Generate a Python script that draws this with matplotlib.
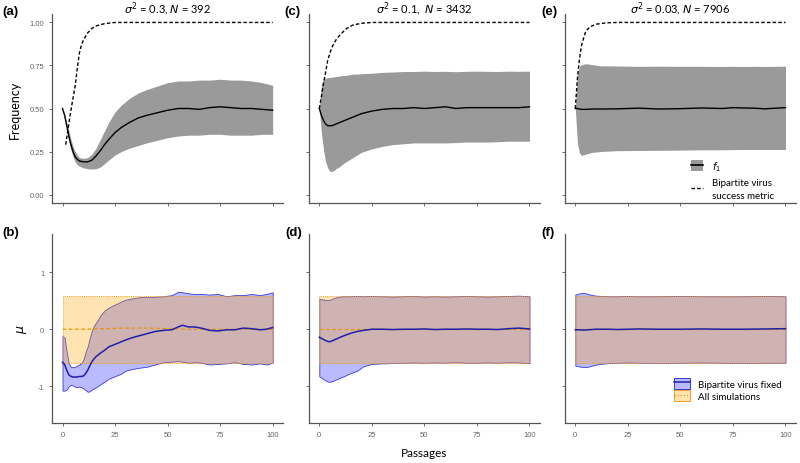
import matplotlib
matplotlib.use("Agg")
import matplotlib.pyplot as plt
from matplotlib.patches import Patch
from matplotlib.lines import Line2D

# ---------------- data ----------------
# Panel (a): sigma^2 = 0.3, N = 392
xa = [0, 1, 2, 3, 4, 5, 6, 7, 8, 10, 12, 14, 16, 18, 20, 22, 25, 28, 32, 36, 40,
      45, 50, 55, 60, 65, 70, 75, 80, 85, 90, 95, 100]
fa_mean = [0.50, 0.46, 0.40, 0.34, 0.29, 0.25, 0.22, 0.205, 0.195, 0.19, 0.19, 0.20,
           0.225, 0.255, 0.29, 0.32, 0.36, 0.39, 0.42, 0.445, 0.46, 0.475, 0.49, 0.50,
           0.50, 0.495, 0.505, 0.51, 0.505, 0.50, 0.50, 0.495, 0.49]
fa_upper = [0.50, 0.47, 0.42, 0.37, 0.32, 0.28, 0.25, 0.23, 0.215, 0.21, 0.215, 0.235,
            0.27, 0.32, 0.37, 0.42, 0.48, 0.52, 0.56, 0.59, 0.61, 0.63, 0.65, 0.66,
            0.66, 0.665, 0.665, 0.67, 0.665, 0.665, 0.66, 0.65, 0.635]
fa_lower = [0.50, 0.45, 0.38, 0.31, 0.26, 0.22, 0.19, 0.175, 0.165, 0.155, 0.15, 0.148,
            0.15, 0.16, 0.18, 0.20, 0.23, 0.25, 0.27, 0.285, 0.30, 0.315, 0.33, 0.34,
            0.345, 0.345, 0.35, 0.35, 0.345, 0.345, 0.345, 0.35, 0.35]
xa_s = [1.5, 2, 3, 4, 5, 6, 7, 8, 9, 10, 12, 14, 16, 20, 25, 30, 40, 50, 60, 70, 80, 90, 100]
sa = [0.29, 0.33, 0.41, 0.49, 0.56, 0.63, 0.73, 0.82, 0.87, 0.90, 0.94, 0.965, 0.98,
      0.993, 1.0, 1.0, 1.0, 1.0, 1.0, 1.0, 1.0, 1.0, 1.0]

# Panel (c): sigma^2 = 0.1, N = 3432
xc = [0, 1, 2, 3, 4, 5, 6, 7, 8, 10, 12, 14, 16, 18, 20, 25, 30, 35, 40, 45, 50, 55,
      60, 65, 70, 75, 80, 85, 90, 95, 100]
fc_mean = [0.50, 0.46, 0.43, 0.41, 0.40, 0.40, 0.40, 0.405, 0.41, 0.42, 0.43, 0.44,
           0.45, 0.46, 0.47, 0.485, 0.495, 0.50, 0.50, 0.505, 0.50, 0.505, 0.51, 0.50,
           0.505, 0.505, 0.505, 0.505, 0.505, 0.505, 0.51]
fc_upper = [0.50, 0.64, 0.67, 0.675, 0.68, 0.68, 0.682, 0.684, 0.685, 0.69, 0.692, 0.695,
            0.70, 0.70, 0.702, 0.705, 0.71, 0.712, 0.715, 0.715, 0.717, 0.715, 0.716,
            0.714, 0.716, 0.717, 0.716, 0.715, 0.717, 0.716, 0.717]
fc_lower = [0.50, 0.36, 0.26, 0.19, 0.155, 0.135, 0.135, 0.14, 0.15, 0.165, 0.185,
            0.20, 0.215, 0.23, 0.245, 0.265, 0.28, 0.29, 0.295, 0.30, 0.30, 0.30, 0.30,
            0.302, 0.305, 0.305, 0.305, 0.307, 0.31, 0.31, 0.31]
xc_s = [0, 1, 2, 3, 4, 5, 6, 8, 10, 13, 16, 20, 25, 30, 40, 50, 60, 70, 80, 90, 100]
sc = [0.50, 0.57, 0.645, 0.71, 0.78, 0.82, 0.855, 0.90, 0.93, 0.965, 0.985, 0.995,
      1.0, 1.0, 1.0, 1.0, 1.0, 1.0, 1.0, 1.0, 1.0]

# Panel (e): sigma^2 = 0.03, N = 7906
xe = [0, 1, 2, 3, 5, 8, 12, 20, 30, 40, 50, 60, 70, 75, 80, 85, 90, 100]
fe_mean = [0.50, 0.50, 0.497, 0.495, 0.495, 0.497, 0.497, 0.498, 0.502, 0.497, 0.499,
           0.503, 0.50, 0.505, 0.503, 0.502, 0.498, 0.505]
fe_upper = [0.50, 0.70, 0.745, 0.755, 0.76, 0.755, 0.748, 0.747, 0.745, 0.746, 0.745,
            0.745, 0.744, 0.745, 0.744, 0.745, 0.744, 0.746]
fe_lower = [0.50, 0.30, 0.24, 0.228, 0.235, 0.245, 0.25, 0.255, 0.256, 0.257, 0.258,
            0.26, 0.26, 0.261, 0.262, 0.262, 0.262, 0.262]
xe_s = [0, 1, 2, 3, 5, 7, 10, 15, 20, 30, 40, 50, 60, 70, 80, 90, 100]
se = [0.50, 0.675, 0.79, 0.87, 0.95, 0.975, 0.99, 0.998, 1.0, 1.0, 1.0, 1.0, 1.0, 1.0,
      1.0, 1.0, 1.0]

# All simulations (orange) for panels (b), (d), (f)
xo = [0, 10, 20, 30, 40, 50, 60, 70, 80, 90, 100]
all_upper = [0.58, 0.58, 0.58, 0.58, 0.58, 0.58, 0.58, 0.58, 0.58, 0.58, 0.58]
all_lower = [-0.59, -0.59, -0.59, -0.59, -0.59, -0.59, -0.59, -0.59, -0.59, -0.59, -0.59]
all_mean_b = [0.0, 0.0, 0.01, 0.02, 0.02, 0.01, 0.0, 0.0, 0.0, 0.0, 0.0]
all_mean_d = [0.0, 0.0, 0.0, 0.0, 0.0, 0.0, 0.0, 0.0, 0.0, 0.0, 0.0]
all_mean_f = [0.0, 0.0, 0.0, 0.0, 0.0, 0.0, 0.0, 0.0, 0.0, 0.0, 0.0]

# Bipartite virus fixed (blue), panel (b)
xb = [0, 1, 2, 3, 4, 5, 6, 7, 8, 9, 10, 11, 12, 13, 14, 15, 16, 18, 20, 22, 24, 26,
      28, 30, 33, 36, 40, 44, 48, 52, 55, 57, 60, 63, 66, 70, 74, 78, 82, 86, 90, 94,
      97, 100]
mb_upper = [-0.12, -0.15, -0.40, -0.60, -0.66, -0.67, -0.66, -0.64, -0.62, -0.60,
            -0.53, -0.40, -0.30, -0.15, -0.02, 0.06, 0.12, 0.24, 0.33, 0.38, 0.42, 0.45,
            0.49, 0.52, 0.54, 0.56, 0.57, 0.57, 0.58, 0.60, 0.66, 0.65, 0.63, 0.62, 0.62,
            0.61, 0.62, 0.58, 0.60, 0.60, 0.62, 0.60, 0.62, 0.65]
mb_mean = [-0.58, -0.62, -0.72, -0.80, -0.83, -0.84, -0.84, -0.84, -0.83, -0.83, -0.82,
           -0.78, -0.72, -0.64, -0.57, -0.52, -0.48, -0.42, -0.37, -0.31, -0.28, -0.25,
           -0.22, -0.19, -0.15, -0.12, -0.08, -0.04, -0.02, -0.01, 0.04, 0.07, 0.04,
           0.04, 0.02, -0.02, -0.03, -0.01, -0.01, 0.02, 0.01, -0.01, 0.0, 0.03]
mb_lower = [-1.08, -1.08, -1.06, -1.00, -0.98, -0.99, -1.01, -1.02, -1.01, -1.02, -1.04,
            -1.07, -1.10, -1.09, -1.06, -1.04, -1.02, -0.97, -0.92, -0.87, -0.84, -0.81,
            -0.78, -0.73, -0.70, -0.68, -0.66, -0.62, -0.58, -0.57, -0.56, -0.57, -0.59,
            -0.58, -0.59, -0.62, -0.61, -0.60, -0.58, -0.61, -0.62, -0.60, -0.62, -0.59]

# panel (d)
xd = [0, 2, 4, 5, 7, 10, 12, 15, 18, 21, 25, 30, 35, 40, 45, 50, 55, 60, 65, 70, 75,
      80, 85, 90, 95, 100]
md_upper = [0.535, 0.52, 0.51, 0.515, 0.55, 0.575, 0.58, 0.58, 0.585, 0.58, 0.585,
            0.58, 0.575, 0.58, 0.585, 0.575, 0.58, 0.575, 0.58, 0.585, 0.58, 0.575,
            0.58, 0.585, 0.59, 0.58]
md_mean = [-0.14, -0.18, -0.215, -0.22, -0.19, -0.14, -0.11, -0.07, -0.04, -0.02, 0.0,
           0.0, -0.005, 0.0, 0.0, 0.005, -0.005, 0.0, 0.0, 0.005, 0.0, 0.0, -0.005,
           0.01, 0.02, 0.005]
md_lower = [-0.83, -0.88, -0.92, -0.925, -0.90, -0.85, -0.82, -0.77, -0.73, -0.65,
            -0.61, -0.60, -0.595, -0.59, -0.585, -0.59, -0.585, -0.59, -0.58, -0.59,
            -0.59, -0.585, -0.59, -0.58, -0.585, -0.595]

# panel (f)
xf = [0, 2, 4, 6, 8, 10, 13, 16, 20, 25, 30, 40, 50, 60, 70, 80, 90, 100]
mf_upper = [0.61, 0.63, 0.64, 0.62, 0.60, 0.59, 0.585, 0.58, 0.58, 0.585, 0.58, 0.58,
            0.585, 0.58, 0.58, 0.58, 0.585, 0.58]
mf_mean = [-0.01, -0.01, -0.015, -0.01, -0.005, 0.0, 0.0, 0.0, -0.005, 0.0, 0.005, 0.0,
           0.0, 0.005, 0.0, 0.0, 0.005, 0.01]
mf_lower = [-0.64, -0.655, -0.665, -0.66, -0.64, -0.62, -0.605, -0.595, -0.59, -0.585,
            -0.59, -0.595, -0.59, -0.585, -0.59, -0.595, -0.59, -0.59]

titles = [r"$\sigma^2$ = 0.3, $N$ = 392", r"$\sigma^2$ = 0.1,  $N$ = 3432",
          r"$\sigma^2$ = 0.03, $N$ = 7906"]
top_labels = ["(a)", "(c)", "(e)"]
bot_labels = ["(b)", "(d)", "(f)"]
xticks = [0, 25, 50, 75, 100]
top_yticks = [0.00, 0.25, 0.50, 0.75, 1.00]
bot_yticks = [-1, 0, 1]

# ---------------- style ----------------
TXT = "Lato"
GRAY_FILL = "#9a9a9a"
BLUE_FACE = (0.0, 0.0, 1.0, 0.27)
BLUE_EDGE = (0.15, 0.15, 0.85, 0.9)
BLUE_LINE = "#1f1fa8"
OR_FACE = (1.0, 0.65, 0.0, 0.30)
OR_EDGE = "#f0a020"
OR_LINE = "#e8950c"

fig = plt.figure(figsize=(8, 4.64), dpi=100)
lefts = [0.065, 0.386, 0.706]
W = 0.289

def style(ax, yticks, ylim, show_xlabels, show_ylabels):
    ax.set_xlim(-5, 105)
    ax.set_ylim(*ylim)
    ax.set_xticks(xticks)
    ax.set_yticks(yticks)
    for s in ["top", "right"]:
        ax.spines[s].set_visible(False)
    for s in ["left", "bottom"]:
        ax.spines[s].set_color("#555555")
        ax.spines[s].set_linewidth(0.9)
    ax.tick_params(length=2.5, width=0.6, color="#555555", labelsize=5.5,
                   labelcolor="#666666", pad=3)
    for lab in ax.get_xticklabels() + ax.get_yticklabels():
        lab.set_fontfamily("Liberation Sans")
    if not show_xlabels:
        ax.set_xticklabels([])
    if not show_ylabels:
        ax.set_yticklabels([])
    else:
        if yticks == top_yticks:
            ax.set_yticklabels(["%.2f" % v for v in yticks], fontfamily="Liberation Sans")
        else:
            ax.set_yticklabels([str(v) for v in yticks], fontfamily="Liberation Sans")

top_data = [(xa, fa_mean, fa_upper, fa_lower, xa_s, sa),
            (xc, fc_mean, fc_upper, fc_lower, xc_s, sc),
            (xe, fe_mean, fe_upper, fe_lower, xe_s, se)]
bot_data = [(xb, mb_mean, mb_upper, mb_lower, all_mean_b),
            (xd, md_mean, md_upper, md_lower, all_mean_d),
            (xf, mf_mean, mf_upper, mf_lower, all_mean_f)]

for i in range(3):
    ax = fig.add_axes([lefts[i], 0.560, W, 0.408])
    x, m, up, lo, xs, s = top_data[i]
    ax.fill_between(x, lo, up, color=GRAY_FILL, lw=0)
    ax.plot(x, m, color="black", lw=1.0)
    ax.plot(xs, s, color="black", lw=1.0, ls=(0, (2.5, 1.6)))
    style(ax, top_yticks, (-0.05, 1.05), False, i == 0)
    fig.text(lefts[i] + W / 2, 1 - 13.5 / 464, titles[i], fontsize=8, fontfamily=TXT,
             ha="center", va="baseline")
    if i == 0:
        ax.set_ylabel("Frequency", fontsize=9, fontfamily=TXT, labelpad=6)
    if i == 2:
        h1 = (Patch(facecolor=GRAY_FILL, edgecolor="none"),
              Line2D([], [], color="black", lw=1.2))
        h2 = Line2D([], [], color="black", lw=1.0, ls=(0, (2.5, 1.6)))
        leg = ax.legend([h1, h2], [r"$f_1$", "Bipartite virus\nsuccess metric"],
                        loc="upper left", bbox_to_anchor=(691 / 800, 1 - 160 / 464),
                        bbox_transform=fig.transFigure, frameon=False, borderpad=0,
                        borderaxespad=0, handlelength=1.25, handleheight=1.35,
                        handletextpad=0.9, labelspacing=0.5,
                        prop={"family": TXT, "size": 7})
        for t in leg.get_texts():
            t.set_linespacing(1.55)

for i in range(3):
    ax = fig.add_axes([lefts[i], 0.086, W, 0.407])
    x, m, up, lo, om = bot_data[i]
    ax.fill_between(x, lo, up, facecolor=BLUE_FACE, edgecolor=BLUE_EDGE, lw=0.6)
    ax.fill_between(xo, all_lower, all_upper, facecolor=OR_FACE, edgecolor=OR_EDGE,
                    lw=0.7, linestyle=(0, (1, 1.2)))
    ax.plot(xo, om, color=OR_LINE, lw=0.9, ls=(0, (3, 2)))
    ax.plot(x, m, color=BLUE_LINE, lw=1.1)
    style(ax, bot_yticks, (-1.65, 1.67), True, i == 0)
    if i == 0:
        ax.set_ylabel(r"$\mu$", fontsize=9, labelpad=6)
    if i == 1:
        ax.set_xlabel("Passages", fontsize=8.5, fontfamily=TXT, labelpad=7)
    if i == 2:
        h1 = (Patch(facecolor=BLUE_FACE, edgecolor=BLUE_EDGE, lw=0.7),
              Line2D([], [], color=BLUE_LINE, lw=1.1))
        h2 = (Patch(facecolor=OR_FACE, edgecolor=OR_EDGE, lw=0.7),
              Line2D([], [], color=OR_LINE, lw=0.9, ls=(0, (1, 1.5))))
        ax.legend([h1, h2], ["Bipartite virus fixed", "All simulations"],
                  loc="upper left", bbox_to_anchor=(674 / 800, 1 - 379 / 464),
                  bbox_transform=fig.transFigure, frameon=False, borderpad=0,
                  borderaxespad=0, handlelength=1.65, handleheight=1.35,
                  handletextpad=0.8, labelspacing=0.15,
                  prop={"family": TXT, "size": 7})

# panel labels
for i, lab in enumerate(top_labels):
    fig.text([2, 284, 541][i] / 800, 1 - 12.5 / 464, lab, fontsize=9.5,
             fontweight="bold", fontfamily="Liberation Sans", va="center", ha="left")
for i, lab in enumerate(bot_labels):
    fig.text([2, 285, 541][i] / 800, 1 - 233 / 464, lab, fontsize=9.5,
             fontweight="bold", fontfamily="Liberation Sans", va="center", ha="left")

fig.savefig("out.png", dpi=100)
